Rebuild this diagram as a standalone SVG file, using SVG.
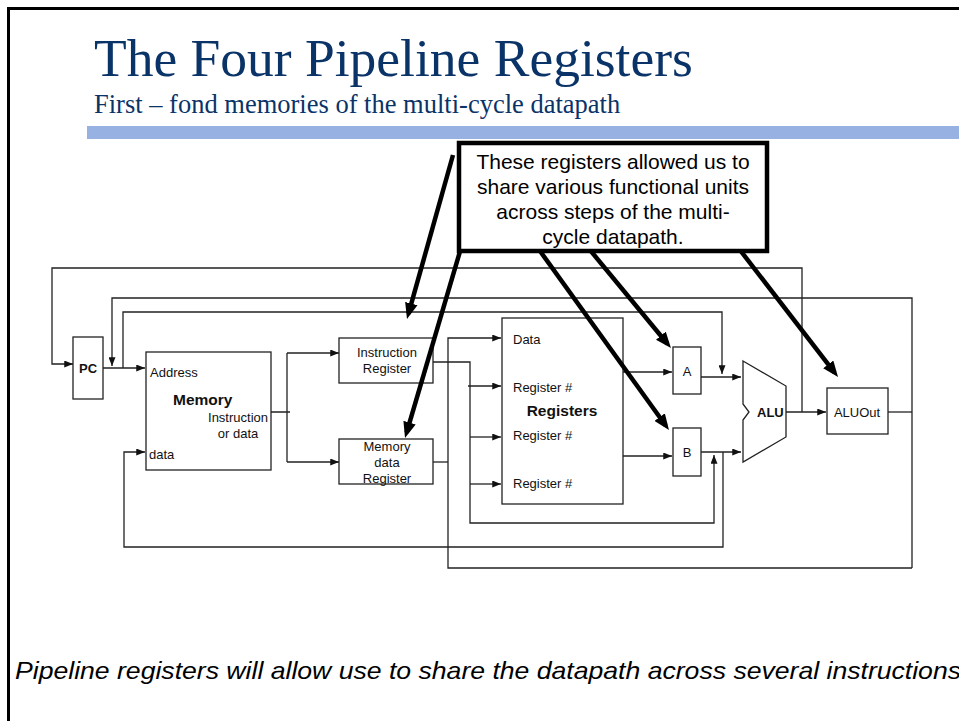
<svg xmlns="http://www.w3.org/2000/svg" width="959" height="721" viewBox="0 0 959 721">
<style>
.box{fill:#fff;stroke:#222;stroke-width:1.3}
.w{fill:none;stroke:#222;stroke-width:1.3}
.thick{fill:none;stroke:#000;stroke-width:4.5}
.t{font-family:"Liberation Sans",Arial,sans-serif;font-size:13px;fill:#111}
.b{font-weight:bold}
.m{text-anchor:middle}
.big{font-size:15.5px}
.call{font-size:21px;fill:#000}
.foot{font-size:24px;font-style:italic;fill:#000}
.title{font-family:"Liberation Serif","Times New Roman",serif;fill:#0a3368}
</style>
<defs>
<marker id="ar" viewBox="0 0 10 8" markerWidth="9" markerHeight="7" refX="10" refY="4" orient="auto" markerUnits="userSpaceOnUse">
<path d="M0,0 L10,4 L0,8 z" fill="#111"/>
</marker>
<marker id="big" viewBox="0 0 10 8" markerWidth="16" markerHeight="13" refX="6.5" refY="4" orient="auto" markerUnits="userSpaceOnUse">
<path d="M0,0 L10,4 L0,8 z" fill="#000"/>
</marker>
</defs>
<rect x="0" y="0" width="959" height="721" fill="#fff"/>
<path d="M8.5,721 V8.5 H959" fill="none" stroke="#000" stroke-width="3"/>
<text class="title" x="94" y="76" font-size="53.5">The Four Pipeline Registers</text>
<text class="title" x="94" y="113" font-size="26.5">First – fond memories of the multi-cycle datapath</text>
<rect x="87" y="126" width="872" height="13" fill="#98b1e3"/>

<g id="connectors">
<path class="w" d="M786,412 H826" marker-end="url(#ar)"/>
<path class="w" d="M802,412 V268 H52 V364 H73" marker-end="url(#ar)"/>
<path class="w" d="M888,412 H912"/>
<path class="w" d="M912,568 V298 H112 V366" marker-end="url(#ar)"/>
<path class="w" d="M912,568 H448 V338 H501" marker-end="url(#ar)"/>
<path class="w" d="M433,462 H448"/>
<path class="w" d="M103,368 H145" marker-end="url(#ar)"/>
<path class="w" d="M123,368 V312 H722 V374" marker-end="url(#ar)"/>
<path class="w" d="M271,412 H290 M287,353 V462"/>
<path class="w" d="M287,353 H339" marker-end="url(#ar)"/>
<path class="w" d="M287,462 H339" marker-end="url(#ar)"/>
<path class="w" d="M433,362 H470 V523 H714 V455" marker-end="url(#ar)"/>
<path class="w" d="M468,386 H501" marker-end="url(#ar)"/>
<path class="w" d="M470,437 H501" marker-end="url(#ar)"/>
<path class="w" d="M470,484 H501" marker-end="url(#ar)"/>
<path class="w" d="M623,372 H672" marker-end="url(#ar)"/>
<path class="w" d="M623,456 H672" marker-end="url(#ar)"/>
<path class="w" d="M701,377 H741" marker-end="url(#ar)"/>
<path class="w" d="M701,452 H741" marker-end="url(#ar)"/>
<path class="w" d="M723,452 V547 H124 V452 H145" marker-end="url(#ar)"/>
</g>

<g id="pc">
<rect class="box" x="73" y="337" width="30" height="62"/>
<text class="t b m" x="88" y="373">PC</text>
</g>
<g id="memory">
<rect class="box" x="146" y="352" width="125" height="118"/>
<text class="t" x="150" y="377">Address</text>
<text class="t b big" x="173" y="405">Memory</text>
<text class="t" x="268" y="422" text-anchor="end">Instruction</text>
<text class="t m" x="238" y="438">or data</text>
<text class="t" x="149" y="459">data</text>
</g>
<g id="instruction-register">
<rect class="box" x="339" y="338" width="94" height="45"/>
<text class="t m" x="387" y="357">Instruction</text>
<text class="t m" x="387" y="373">Register</text>
</g>
<g id="memory-data-register">
<rect class="box" x="339" y="439" width="94" height="45"/>
<text class="t m" x="387" y="451">Memory</text>
<text class="t m" x="387" y="467">data</text>
<text class="t m" x="387" y="483">Register</text>
</g>
<g id="registers">
<rect class="box" x="502" y="318" width="121" height="186"/>
<text class="t" x="513" y="344">Data</text>
<text class="t" x="513" y="392">Register #</text>
<text class="t b m big" x="562" y="416">Registers</text>
<text class="t" x="513" y="440">Register #</text>
<text class="t" x="513" y="488">Register #</text>
</g>
<g id="reg-a">
<rect class="box" x="673" y="347" width="28" height="47"/>
<text class="t m" x="687" y="376">A</text>
</g>
<g id="reg-b">
<rect class="box" x="673" y="428" width="28" height="48"/>
<text class="t m" x="687" y="457">B</text>
</g>
<g id="alu">
<polygon class="box" points="743,361 786,386 786,437 743,462 743,420 749,412 743,404"/>
<text class="t b" x="757" y="417">ALU</text>
</g>
<g id="aluout">
<rect class="box" x="827" y="388" width="61" height="46"/>
<text class="t m" x="857" y="417">ALUOut</text>
</g>

<g id="callout-arrows">
<path class="thick" d="M453,155 L408.5,313.6" marker-end="url(#big)"/>
<path class="thick" d="M461,248 L406.6,432.6" marker-end="url(#big)"/>
<path class="thick" d="M540,251 L665.7,425.5" marker-end="url(#big)"/>
<path class="thick" d="M590,250 L667.4,343.7" marker-end="url(#big)"/>
<path class="thick" d="M740,250 L834.6,372.6" marker-end="url(#big)"/>
</g>
<g id="callout">
<rect x="459" y="143" width="308" height="108" fill="#fff" stroke="#000" stroke-width="4.5"/>
<text class="t m call" x="613" y="169">These registers allowed us to</text>
<text class="t m call" x="613" y="194">share various functional units</text>
<text class="t m call" x="613" y="219">across steps of the multi-</text>
<text class="t m call" x="613" y="244">cycle datapath.</text>
</g>

<text class="t foot" x="15" y="679" textLength="946" lengthAdjust="spacingAndGlyphs">Pipeline registers will allow use to share the datapath across several instructions</text>
</svg>
